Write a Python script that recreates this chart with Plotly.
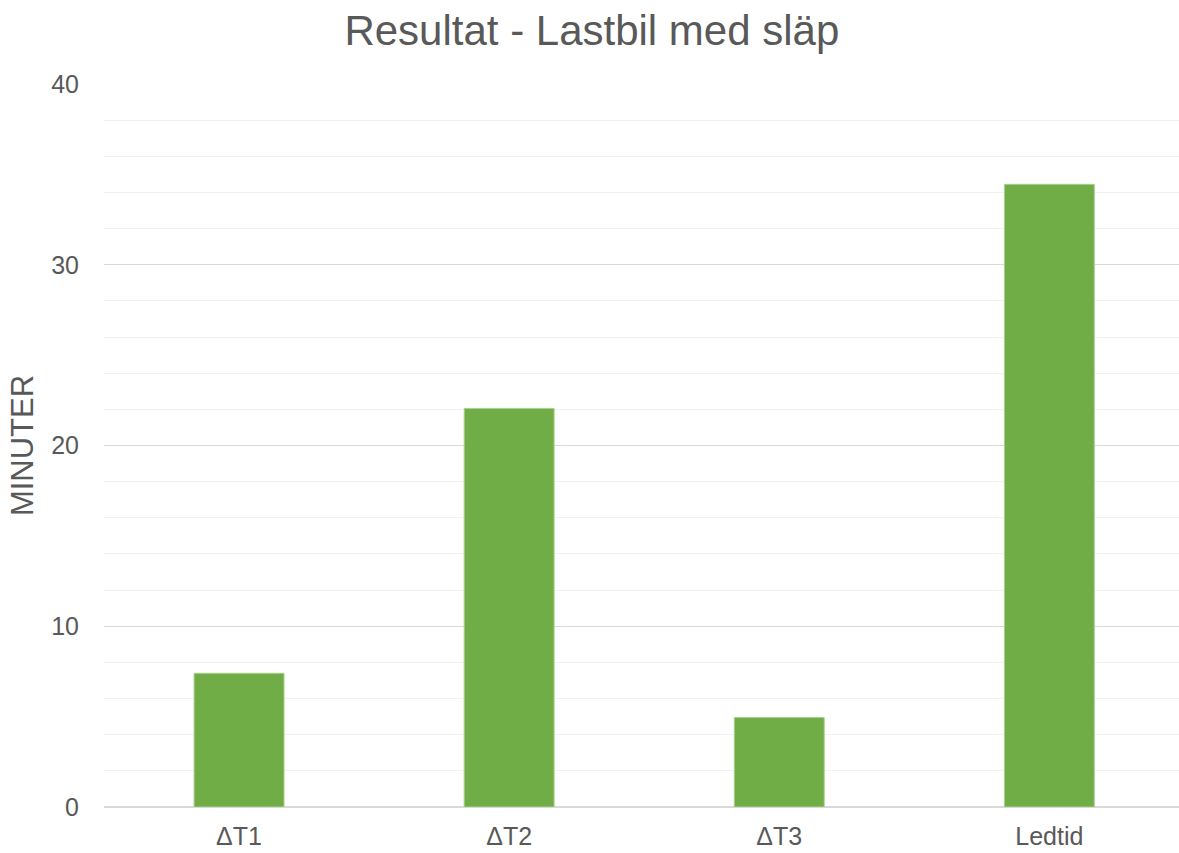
import plotly.graph_objects as go

categories = ["ΔT1", "ΔT2", "ΔT3", "Ledtid"]
minutes = [7.4, 22.05, 4.95, 34.45]
y_ticks = [0, 10, 20, 30, 40]

fig = go.Figure(
    go.Bar(
        x=categories,
        y=minutes,
        marker=dict(color="#70AD47", line=dict(color="#A9D18E", width=1)),
        hoverinfo="x+y",
    )
)

fig.update_layout(
    width=1179,
    height=853,
    margin=dict(l=104, r=0, t=84, b=46),
    paper_bgcolor="white",
    plot_bgcolor="white",
    bargap=0.667,
    showlegend=False,
    font=dict(family="Liberation Sans, Arial, sans-serif", color="#595959"),
    title=dict(
        text="Resultat - Lastbil med släp",
        x=0.502,
        xref="container",
        xanchor="center",
        y=0.965,
        yanchor="middle",
        font=dict(size=42, color="#595959"),
    ),
)

fig.update_xaxes(
    range=[-0.5, 3.48],
    automargin=False,
    showgrid=False,
    showline=False,
    ticks="",
    ticklabelstandoff=12,
    tickfont=dict(size=25, color="#595959"),
)

fig.update_yaxes(
    range=[0, 40],
    automargin=False,
    tickvals=y_ticks,
    showgrid=True,
    gridcolor="#D9D9D9",
    gridwidth=1,
    minor=dict(dtick=2, showgrid=True, gridcolor="#F2F2F2", gridwidth=1),
    zeroline=True,
    zerolinecolor="#D9D9D9",
    zerolinewidth=1.5,
    showline=False,
    ticks="",
    ticklabelstandoff=24,
    tickfont=dict(size=25, color="#595959"),
    title=dict(text="MINUTER", font=dict(size=31, color="#595959"), standoff=8),
)

fig.write_html("out.html")
